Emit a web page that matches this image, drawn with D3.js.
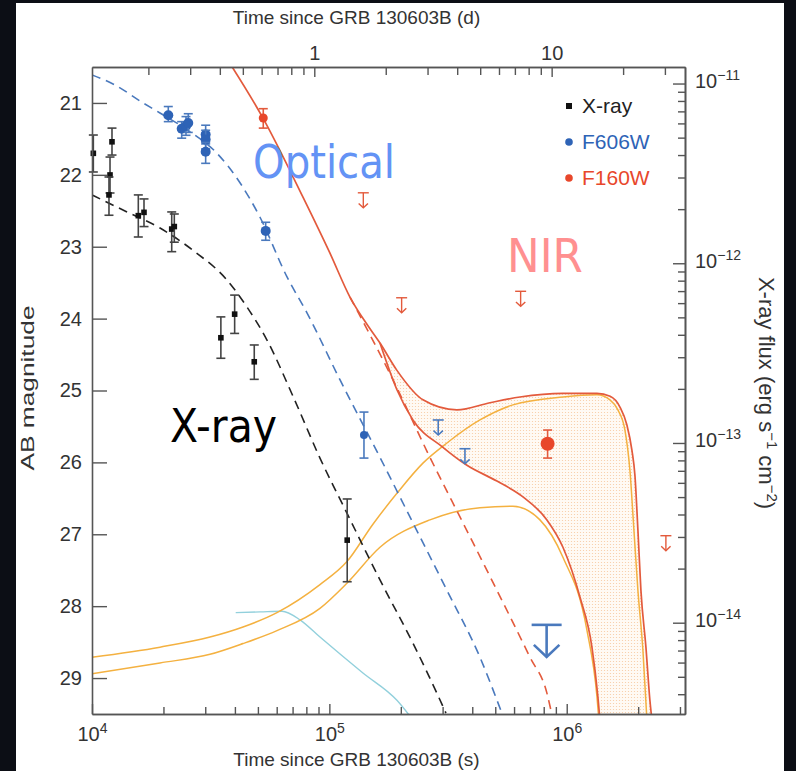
<!DOCTYPE html>
<html>
<head>
<meta charset="utf-8">
<script src="https://cdn.jsdelivr.net/npm/d3@7"></script>
<style>
  html, body { margin: 0; padding: 0; background: #0c0e15; }
  svg { display: block; }
</style>
</head>
<body>
<div id="chart"></div>
<script>
// ---- data (time in s, AB mag or X-ray flux) ----
// X-ray: [t, flux, flux top of error, flux bottom of error]
const xrayData = [
    [10130, 4.09e-12, 5.17e-12, 3.22e-12],
    [12140, 4.74e-12, 5.65e-12, 4.00e-12],
    [11910, 3.10e-12, 3.90e-12, 2.46e-12],
    [11790, 2.40e-12, 3.02e-12, 1.85e-12],
    [15670, 1.84e-12, 2.40e-12, 1.40e-12],
    [16560, 1.92e-12, 2.28e-12, 1.60e-12],
    [21670, 1.55e-12, 1.93e-12, 1.16e-12],
    [22220, 1.60e-12, 1.88e-12, 1.31e-12],
    [34910, 3.85e-13, 5.03e-13, 2.96e-13],
    [39900, 5.21e-13, 6.65e-13, 4.07e-13],
    [48260, 2.83e-13, 3.51e-13, 2.26e-13],
    [118900, 2.88e-14, 4.88e-14, 1.69e-14]
];
// F606W: [t, mag, mag bright end, mag faint end]
const f606wData = [
    [20960, 21.17, 21.05, 21.26],
    [23870, 21.36, 21.26, 21.49],
    [24890, 21.32, 21.19, 21.45],
    [25440, 21.28, 21.15, 21.41],
    [30120, 21.44, 21.31, 21.57],
    [30120, 21.51, 21.38, 21.64],
    [30120, 21.68, 21.55, 21.84],
    [53920, 22.78, 22.66, 22.91],
    [139900, 25.62, 25.30, 25.94]
];
const f606wLimits = [[287500, 25.41], [372600, 25.81]];
const f606wDeepLimit = [[822900, 28.26]];
// F160W
const f160wData = [
    [52670, 21.21, 21.08, 21.35],
    [830700, 25.74, 25.55, 25.94]
];
const f160wLimits = [[139000, 22.25], [201600, 23.71], [639500, 23.62], [2617000, 27.02]];

// model curves [t, mag] (X-ray model in flux)
const xrayModel = [
    [10000, 2.40e-12], [14040, 1.93e-12], [19340, 1.57e-12], [26630, 1.18e-12],
    [37050, 8.06e-13], [44970, 5.71e-13], [54600, 3.74e-13], [70270, 1.82e-13],
    [91290, 8.24e-14], [118600, 4.07e-14], [163400, 1.73e-14], [224900, 7.70e-15],
    [283900, 4.05e-15], [309800, 3.14e-15]
];
const f606wModel = [
    [10000, 20.61], [12500, 20.75], [16240, 20.99], [19340, 21.14], [25870, 21.40],
    [33610, 21.70], [42020, 22.11], [51030, 22.59], [66300, 23.42], [80480, 23.92],
    [110800, 24.85], [163400, 25.93], [224900, 26.84], [312900, 27.78],
    [430900, 28.71], [533300, 29.49]
];
const f160wAfterglow = [
    [122100, 23.70], [185300, 24.85], [265300, 25.93], [365400, 26.84],
    [508200, 27.78], [699800, 28.71], [825200, 29.21], [874900, 29.58]
];
const f160wTotalUpper = [
    [37770, 20.43], [52520, 21.21], [77420, 22.31], [100600, 23.09], [122100, 23.70],
    [145400, 24.10], [163400, 24.34], [192600, 24.72], [247900, 25.13], [344800, 25.27],
    [474800, 25.17], [635300, 25.09], [963900, 25.04], [1341000, 25.04], [1524000, 25.08],
    [1676000, 25.23], [1793000, 25.48], [1882000, 25.83], [1938000, 26.18],
    [1995000, 26.94], [2054000, 27.78], [2156000, 28.57], [2241000, 29.31], [2285000, 29.58]
];
const f160wTotalLower = [
    [163400, 24.34], [192600, 24.99], [224900, 25.41], [300900, 25.79], [379800, 26.04],
    [508200, 26.26], [653900, 26.48], [825200, 26.80], [963900, 27.18], [1136000, 27.87],
    [1277000, 28.57], [1353000, 29.26], [1380000, 29.58]
];
const kilonovaUpper = [
    [10000, 28.71], [19340, 28.57], [31420, 28.43], [43270, 28.29], [60160, 28.09],
    [91290, 27.70], [118600, 27.38], [152600, 26.86], [192600, 26.43], [247900, 26.01],
    [312900, 25.73], [430900, 25.41], [593500, 25.20], [963900, 25.09], [1341000, 25.06],
    [1521000, 25.13], [1643000, 25.27], [1759000, 25.55], [1846000, 26.11],
    [1919000, 26.94], [1995000, 27.78], [2094000, 28.61], [2177000, 29.58]
];
const kilonovaLower = [
    [10000, 28.94], [19340, 28.79], [31420, 28.67], [43270, 28.52], [60160, 28.34],
    [91290, 28.03], [118600, 27.68], [163400, 27.18], [265300, 26.80], [430900, 26.63],
    [593500, 26.61], [771200, 26.80], [963900, 27.32], [1216000, 28.33],
    [1341000, 29.26], [1366000, 29.58]
];
const opticalKilonova = [
    [40310, 28.09], [51030, 28.08], [63150, 28.07], [75190, 28.19], [91290, 28.43],
    [138500, 28.93], [192600, 29.31], [218600, 29.53]
];

// axes ticks
const magTicks = [21, 22, 23, 24, 25, 26, 27, 28, 29];
const secMajor = [1e4, 1e5, 1e6];
const secMinor = [2e4, 3e4, 4e4, 5e4, 6e4, 7e4, 8e4, 9e4, 2e5, 3e5, 4e5, 5e5, 6e5, 7e5, 8e5, 9e5, 2e6, 3e6];
const dayMajor = [1, 10];
const dayMinor = [0.2, 0.3, 0.4, 0.5, 0.6, 0.7, 0.8, 0.9, 2, 3, 4, 5, 6, 7, 8, 9, 20, 30];
const fluxMajor = [1e-11, 1e-12, 1e-13, 1e-14];
const fluxMinor = [2e-12, 3e-12, 4e-12, 5e-12, 6e-12, 7e-12, 8e-12, 9e-12,
    2e-13, 3e-13, 4e-13, 5e-13, 6e-13, 7e-13, 8e-13, 9e-13,
    2e-14, 3e-14, 4e-14, 5e-14, 6e-14, 7e-14, 8e-14, 9e-14,
    4e-15, 5e-15, 6e-15, 7e-15, 8e-15, 9e-15];

const legendLabels = ["X-ray", "F606W", "F160W"];

// ---- setup ----
const W = 796, H = 771;
const mLeft = 92, mRight = 685, mTop = 67, mBottom = 714;
const font = "'Liberation Sans', Arial, Helvetica, sans-serif";

const C = {
    black: "#222222",
    blue: "#2e63b6",
    blueLine: "#4a79bd",
    red: "#e8472b",
    redLine: "#e35a3c",
    orange: "#f4b140",
    cyan: "#92d0dc",
    axis: "#555555"
};

const svg = d3.select("#chart").append("svg")
    .attr("width", W)
    .attr("height", H);

// dark slide background + white panel
svg.append("rect").attr("width", W).attr("height", H).attr("fill", "#0c0e15");
svg.append("rect").attr("x", 16).attr("y", 3).attr("width", 768).attr("height", H - 3).attr("fill", "#ffffff");

const x = d3.scaleLog().domain([1e4, 3.15e6]).range([mLeft, mRight]);
const xDay = d3.scaleLog().domain([1e4 / 86400, 3.15e6 / 86400]).range([mLeft, mRight]);
const y = d3.scaleLinear().domain([20.5, 29.5]).range([mTop, mBottom]);
// flux axis tied to the magnitude axis (2.5 mag per decade)
const magToFlux = m => Math.pow(10, -0.4 * (m + 6.77));
const yFlux = d3.scaleLog().domain([magToFlux(20.5), magToFlux(29.5)]).range([mTop, mBottom]);

const defs = svg.append("defs");
defs.append("clipPath").attr("id", "plotClip")
    .append("rect").attr("x", mLeft).attr("y", mTop).attr("width", mRight - mLeft).attr("height", mBottom - mTop);

const pat = defs.append("pattern").attr("id", "dots")
    .attr("patternUnits", "userSpaceOnUse").attr("width", 3).attr("height", 3);
pat.append("rect").attr("width", 3).attr("height", 3).attr("fill", "#fffaf4");
pat.append("circle").attr("cx", 1.5).attr("cy", 1.5).attr("r", 0.6).attr("fill", "#f7caa2");

const plot = svg.append("g").attr("clip-path", "url(#plotClip)");

const magLine = d3.line().x(d => x(d[0])).y(d => y(d[1])).curve(d3.curveMonotoneX);
const fluxLine = d3.line().x(d => x(d[0])).y(d => yFlux(d[1])).curve(d3.curveMonotoneX);

// shaded region between the two total F160W curves
const bandUpper = f160wTotalUpper.filter(d => d[0] >= 163400);
const bandLower = f160wTotalLower.slice().reverse();
plot.append("path")
    .attr("d", magLine(bandUpper) + "L" + magLine(bandLower).slice(1) + "Z")
    .attr("fill", "url(#dots)")
    .attr("stroke", "none");

function drawCurve(path, color, width, dash) {
    plot.append("path")
        .attr("d", path)
        .attr("fill", "none")
        .attr("stroke", color)
        .attr("stroke-width", width)
        .attr("stroke-dasharray", dash || null);
}

drawCurve(magLine(opticalKilonova), C.cyan, 1.4);
drawCurve(magLine(kilonovaUpper), C.orange, 1.5);
drawCurve(magLine(kilonovaLower), C.orange, 1.5);
drawCurve(fluxLine(xrayModel), C.black, 1.6, "9,6");
drawCurve(magLine(f606wModel), C.blueLine, 1.6, "9,6");
drawCurve(magLine(f160wAfterglow), C.redLine, 1.6, "9,6");
drawCurve(magLine(f160wTotalUpper), C.redLine, 1.7);
drawCurve(magLine(f160wTotalLower), C.redLine, 1.7);

// ---- error bars and markers ----
function errorBar(g, px, y1, y2, color, width) {
    g.append("line").attr("x1", px).attr("x2", px).attr("y1", y1).attr("y2", y2)
        .attr("stroke", color).attr("stroke-width", width);
    [y1, y2].forEach(v => g.append("line")
        .attr("x1", px - 4.5).attr("x2", px + 4.5).attr("y1", v).attr("y2", v)
        .attr("stroke", color).attr("stroke-width", width));
}

const marks = svg.append("g");

xrayData.forEach(d => {
    errorBar(marks, x(d[0]), yFlux(d[2]), yFlux(d[3]), "#444", 1.6);
    marks.append("rect")
        .attr("x", x(d[0]) - 2.8).attr("y", yFlux(d[1]) - 2.8)
        .attr("width", 5.6).attr("height", 5.6).attr("fill", "#111");
});

f606wData.forEach((d, i) => {
    errorBar(marks, x(d[0]), y(d[2]), y(d[3]), C.blueLine, 1.6);
    marks.append("circle").attr("cx", x(d[0])).attr("cy", y(d[1]))
        .attr("r", i === f606wData.length - 1 ? 4 : 5).attr("fill", C.blue);
});

f160wData.forEach((d, i) => {
    errorBar(marks, x(d[0]), y(d[2]), y(d[3]), C.redLine, 1.6);
    marks.append("circle").attr("cx", x(d[0])).attr("cy", y(d[1]))
        .attr("r", i === 0 ? 4.5 : 7).attr("fill", C.red);
});

function upperLimit(g, px, py, color, w, len, sw) {
    g.append("line").attr("x1", px - w).attr("x2", px + w).attr("y1", py).attr("y2", py)
        .attr("stroke", color).attr("stroke-width", sw);
    g.append("line").attr("x1", px).attr("x2", px).attr("y1", py).attr("y2", py + len)
        .attr("stroke", color).attr("stroke-width", sw);
    g.append("path")
        .attr("d", `M${px - w * 0.85},${py + len - w * 0.8} L${px},${py + len} L${px + w * 0.85},${py + len - w * 0.8}`)
        .attr("fill", "none").attr("stroke", color).attr("stroke-width", sw);
}

f606wLimits.forEach(d => upperLimit(marks, x(d[0]), y(d[1]), C.blueLine, 5.5, 15, 1.6));
f606wDeepLimit.forEach(d => upperLimit(marks, x(d[0]), y(d[1]), C.blueLine, 15, 32, 2.6));
f160wLimits.forEach(d => upperLimit(marks, x(d[0]), y(d[1]), C.redLine, 5.5, 15, 1.4));

// ---- axes ----
function styleAxis(g) {
    g.selectAll("path.domain").attr("stroke", C.axis).attr("stroke-width", 1.6);
    g.selectAll(".tick line").attr("stroke", C.axis).attr("stroke-width", 1.4);
    g.selectAll("text").attr("font-family", font).attr("font-size", 20).attr("fill", "#333");
}

function powLabels(g, base, expFn, dy, size) {
    g.selectAll(".tick text").each(function (d) {
        const t = d3.select(this).text("");
        t.append("tspan").text(base);
        t.append("tspan").attr("dy", dy).attr("font-size", size).text(expFn(d));
    });
}

// bottom (seconds)
const gBottom = svg.append("g").attr("transform", `translate(0,${mBottom})`);
gBottom.append("g").call(d3.axisBottom(x).tickValues(secMinor).tickSize(-7).tickSizeOuter(0).tickFormat(""));
const gBottomMajor = gBottom.append("g")
    .call(d3.axisBottom(x).tickValues(secMajor).tickSize(-10).tickSizeOuter(0).tickPadding(13));
styleAxis(gBottom);
powLabels(gBottomMajor, "10", d => Math.round(Math.log10(d)), -8, 14);

// top (days)
const gTop = svg.append("g").attr("transform", `translate(0,${mTop})`);
gTop.append("g").call(d3.axisTop(xDay).tickValues(dayMinor).tickSize(-8).tickSizeOuter(0).tickFormat(""));
gTop.append("g").call(d3.axisTop(xDay).tickValues(dayMajor).tickSize(-10).tickSizeOuter(0)
    .tickPadding(7).tickFormat(d3.format("d")));
styleAxis(gTop);

// left (AB mag)
const gLeft = svg.append("g").attr("transform", `translate(${mLeft},0)`);
gLeft.call(d3.axisLeft(y).tickValues(magTicks).tickSize(-15).tickSizeOuter(0).tickPadding(10));
styleAxis(gLeft);

// right (X-ray flux)
const gRight = svg.append("g").attr("transform", `translate(${mRight},0)`);
gRight.append("g").call(d3.axisRight(yFlux).tickValues(fluxMinor).tickSize(-7).tickSizeOuter(0).tickFormat(""));
const gRightMajor = gRight.append("g")
    .call(d3.axisRight(yFlux).tickValues(fluxMajor).tickSize(-12).tickSizeOuter(0).tickPadding(10));
styleAxis(gRight);
powLabels(gRightMajor, "10", d => "\u2212" + Math.round(-Math.log10(d)), -8, 14);
gRightMajor.selectAll(".tick text").attr("dy", "0.2em");

// axis titles
const titles = svg.append("g").attr("font-family", font).attr("fill", "#333").attr("font-size", 19);
titles.append("text").attr("x", (mLeft + mRight) / 2 - 32).attr("y", 766).attr("text-anchor", "middle")
    .text("Time since GRB 130603B (s)");
titles.append("text").attr("x", (mLeft + mRight) / 2 - 32).attr("y", 24).attr("text-anchor", "middle")
    .text("Time since GRB 130603B (d)");
titles.append("text").attr("transform", "translate(34,388) rotate(-90)").attr("text-anchor", "middle")
    .attr("textLength", 165).attr("lengthAdjust", "spacingAndGlyphs")
    .text("AB magnitude");
const rt = titles.append("text").attr("transform", "translate(759,393) rotate(90)")
    .attr("text-anchor", "middle").attr("font-size", 22);
rt.append("tspan").text("X-ray flux (erg s");
rt.append("tspan").attr("dy", -8).attr("font-size", 15).text("\u22121");
rt.append("tspan").attr("dy", 8).text(" cm");
rt.append("tspan").attr("dy", -8).attr("font-size", 15).text("\u22122");
rt.append("tspan").attr("dy", 8).text(")");

// ---- legend ----
const legendColors = ["#111", C.blue, C.red];
const legend = svg.append("g").attr("font-family", font).attr("font-size", 21);
legendLabels.forEach((lab, i) => {
    const ly = 113 + i * 36;
    if (i === 0) {
        legend.append("rect").attr("x", 566).attr("y", ly - 10).attr("width", 6).attr("height", 6).attr("fill", legendColors[i]);
    } else {
        legend.append("circle").attr("cx", 569).attr("cy", ly - 7).attr("r", 3.8).attr("fill", legendColors[i]);
    }
    legend.append("text").attr("x", 582).attr("y", ly).attr("fill", i === 0 ? "#222" : legendColors[i]).text(lab);
});

// ---- big annotations ----
const ann = svg.append("g").attr("font-family", "'DejaVu Sans', Verdana, sans-serif").attr("font-size", 46);
ann.append("text").attr("x", 253).attr("y", 178).attr("fill", "#6393f5")
    .attr("textLength", 142).attr("lengthAdjust", "spacingAndGlyphs").text("Optical");
ann.append("text").attr("x", 507).attr("y", 272).attr("fill", "#ff9090")
    .attr("textLength", 76).attr("lengthAdjust", "spacingAndGlyphs").text("NIR");
ann.append("text").attr("x", 170).attr("y", 442).attr("fill", "#000")
    .attr("textLength", 107).attr("lengthAdjust", "spacingAndGlyphs").text("X-ray");
</script>
</body>
</html>
